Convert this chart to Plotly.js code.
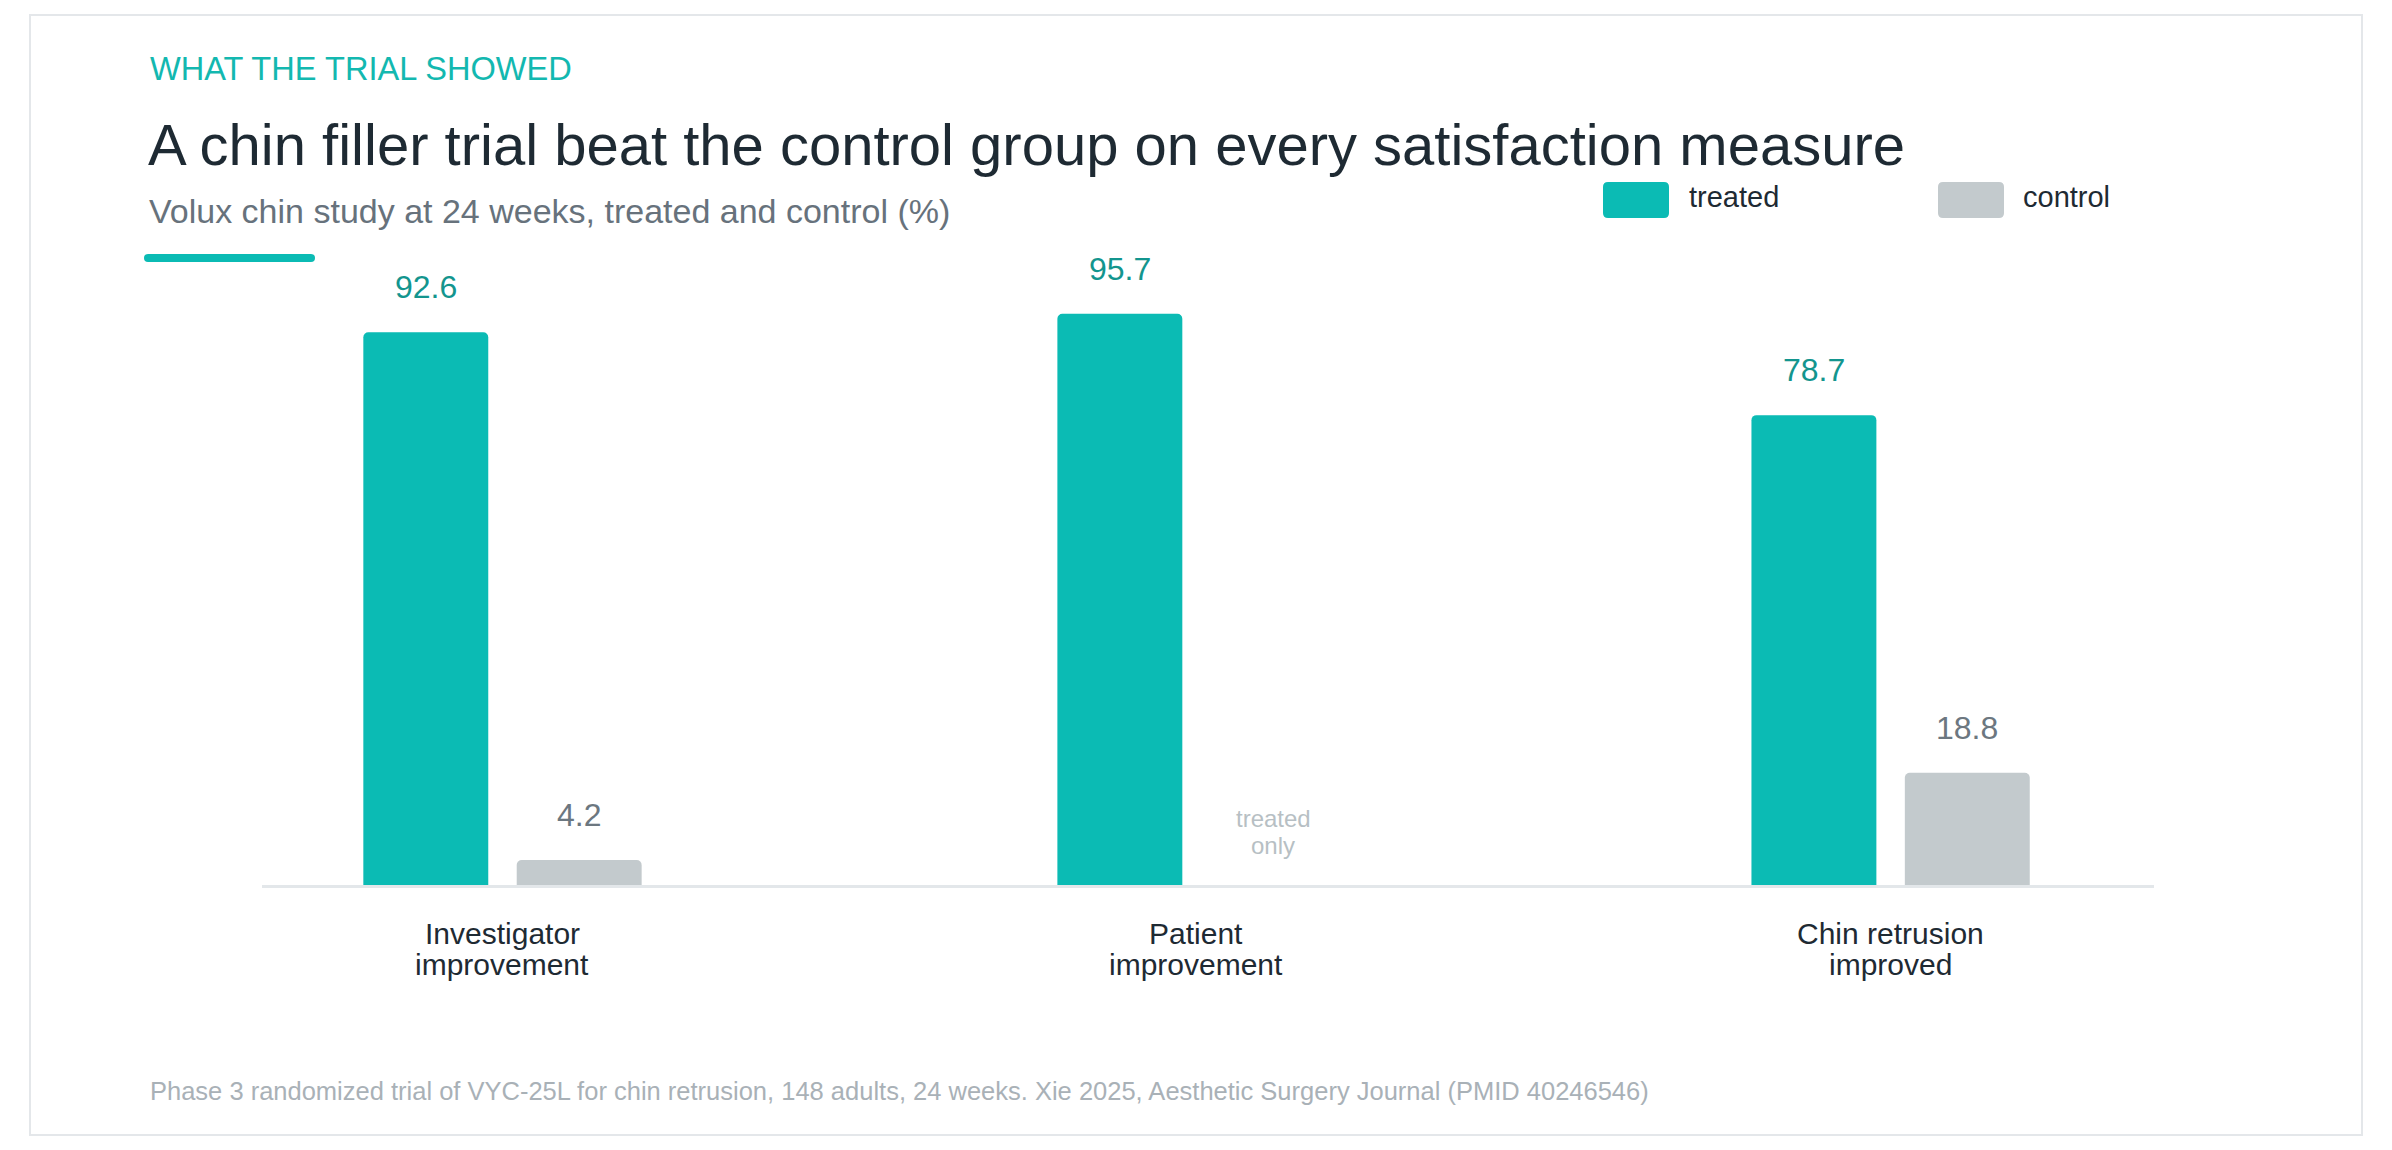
<!DOCTYPE html>
<html>
<head>
<meta charset="utf-8">
<script src="https://cdn.plot.ly/plotly-3.0.1.min.js"></script>
<style>
  html, body { margin: 0; padding: 0; background: #ffffff; }
  #chart { width: 2392px; height: 1150px; }
</style>
</head>
<body>
<div id="chart"></div>
<script>
// ---- data ----
const categories = ['Investigator improvement', 'Patient improvement', 'Chin retrusion improved'];
const categoryLines = [['Investigator', 'improvement'], ['Patient', 'improvement'], ['Chin retrusion', 'improved']];
const seriesNames = ['treated', 'control'];
const treated = [92.6, 95.7, 78.7];
const control = [4.2, null, 18.8];
const noteLines = ['treated', 'only'];

const eyebrow = 'WHAT THE TRIAL SHOWED';
const titleText = 'A chin filler trial beat the control group on every satisfaction measure';
const subtitleText = 'Volux chin study at 24 weeks, treated and control (%)';
const footerText = 'Phase 3 randomized trial of VYC-25L for chin retrusion, 148 adults, 24 weeks. Xie 2025, Aesthetic Surgery Journal (PMID 40246546)';

// ---- style ----
const FONT = 'Liberation Sans, Arial, Helvetica, sans-serif';
const TEAL = '#0bbbb4';
const TEAL_TEXT = '#13958e';
const GREY = '#c3cacd';
const GREY_TEXT = '#6c7780';
const INK = '#1e2a33';

// plot area in page pixels
const PL = 262, PR = 2154, PT = 288, PB = 885;
const PW = PR - PL, PH = PB - PT;
const px = x => (x - PL) / PW;
const py = y => (PB - y) / PH;

// bar geometry in category units
const BAR_W = 0.18;
const OFF_T = -0.2, OFF_C = 0.021;
const CEN_T = OFF_T + BAR_W / 2, CEN_C = OFF_C + BAR_W / 2;
const idx = categories.map((_, i) => i);

function roundRectPath(x0, y0, x1, y1, r) {
  const P = (x, y) => px(x) + ',' + py(y);
  return 'M' + P(x0 + r, y0) +
    ' L' + P(x1 - r, y0) + ' Q' + P(x1, y0) + ' ' + P(x1, y0 + r) +
    ' L' + P(x1, y1 - r) + ' Q' + P(x1, y1) + ' ' + P(x1 - r, y1) +
    ' L' + P(x0 + r, y1) + ' Q' + P(x0, y1) + ' ' + P(x0, y1 - r) +
    ' L' + P(x0, y0 + r) + ' Q' + P(x0, y0) + ' ' + P(x0 + r, y0) + ' Z';
}

function pageText(text, x, yCenter, size, color, anchor) {
  return {
    xref: 'paper', yref: 'paper', x: px(x), y: py(yCenter),
    xanchor: anchor || 'left', yanchor: 'middle',
    text: text, showarrow: false,
    font: { family: FONT, size: size, color: color }
  };
}

const traces = [
  {
    type: 'bar', name: seriesNames[0], x: idx, y: treated,
    width: BAR_W, offset: OFF_T,
    marker: { color: TEAL, cornerradius: 5 },
    hoverinfo: 'skip', showlegend: false
  },
  {
    type: 'bar', name: seriesNames[1], x: idx, y: control,
    width: BAR_W, offset: OFF_C,
    marker: { color: GREY, cornerradius: 5 },
    hoverinfo: 'skip', showlegend: false
  }
];

const annotations = [];

// headings and footer
annotations.push(pageText(eyebrow, 148, 68.6, 32.6, '#13b8b0'));
annotations.push(pageText(titleText, 146, 144.7, 58, INK));
annotations.push(pageText(subtitleText, 147, 211, 34, '#67727c'));
annotations.push(pageText(footerText, 148, 1091, 25.5, '#a9b1b7'));

// legend labels
annotations.push(pageText(seriesNames[0], 1687, 197, 29, INK));
annotations.push(pageText(seriesNames[1], 2021, 197, 29, INK));

// value labels above bars
treated.forEach((v, i) => {
  annotations.push({
    x: i + CEN_T, y: v, xref: 'x', yref: 'y', yanchor: 'middle', yshift: 45,
    text: v.toFixed(1), showarrow: false,
    font: { family: FONT, size: 32, color: TEAL_TEXT }
  });
});
control.forEach((v, i) => {
  if (v === null) {
    noteLines.forEach((line, k) => {
      annotations.push({
        x: i + CEN_C, y: 0, xref: 'x', yref: 'y', yanchor: 'middle',
        yshift: 67 - k * 27,
        text: line, showarrow: false,
        font: { family: FONT, size: 24, color: '#b7bfc4' }
      });
    });
    return;
  }
  annotations.push({
    x: i + CEN_C, y: v, xref: 'x', yref: 'y', yanchor: 'middle', yshift: 45,
    text: v.toFixed(1), showarrow: false,
    font: { family: FONT, size: 32, color: GREY_TEXT }
  });
});

// category labels under the baseline
categoryLines.forEach((lines, i) => {
  lines.forEach((line, k) => {
    annotations.push({
      x: i, y: 0, xref: 'x', yref: 'y', yanchor: 'middle',
      yshift: -(48.5 + k * 31),
      text: line, showarrow: false,
      font: { family: FONT, size: 30, color: INK }
    });
  });
});

const shapes = [
  // card outline
  {
    type: 'rect', xref: 'paper', yref: 'paper',
    x0: px(30), x1: px(2362), y0: py(1135), y1: py(15),
    line: { color: '#e4e7ea', width: 2 }, fillcolor: 'rgba(0,0,0,0)', layer: 'below'
  },
  // accent rule under the subtitle
  {
    type: 'path', xref: 'paper', yref: 'paper',
    path: roundRectPath(144, 254, 315, 262, 4),
    fillcolor: TEAL, line: { width: 0 }
  },
  // legend swatches
  {
    type: 'path', xref: 'paper', yref: 'paper',
    path: roundRectPath(1603, 182, 1669, 218, 5),
    fillcolor: TEAL, line: { width: 0 }
  },
  {
    type: 'path', xref: 'paper', yref: 'paper',
    path: roundRectPath(1938, 182, 2004, 218, 5),
    fillcolor: GREY, line: { width: 0 }
  }
];

const layout = {
  width: 2392, height: 1150,
  margin: { l: PL, r: 2392 - PR, t: PT, b: 1150 - PB, pad: 0 },
  paper_bgcolor: '#ffffff', plot_bgcolor: '#ffffff',
  barmode: 'overlay',
  showlegend: false,
  hovermode: false,
  font: { family: FONT },
  xaxis: {
    range: [-0.346, 2.38], showgrid: false, zeroline: false,
    showticklabels: false, ticks: '', fixedrange: true,
    showline: true, linecolor: '#e3e7ea', linewidth: 3
  },
  yaxis: {
    range: [0, 100], showgrid: false, zeroline: false,
    showticklabels: false, ticks: '', showline: false, fixedrange: true
  },
  annotations: annotations,
  shapes: shapes
};

Plotly.newPlot('chart', traces, layout, { staticPlot: true, displayModeBar: false });
</script>
</body>
</html>
